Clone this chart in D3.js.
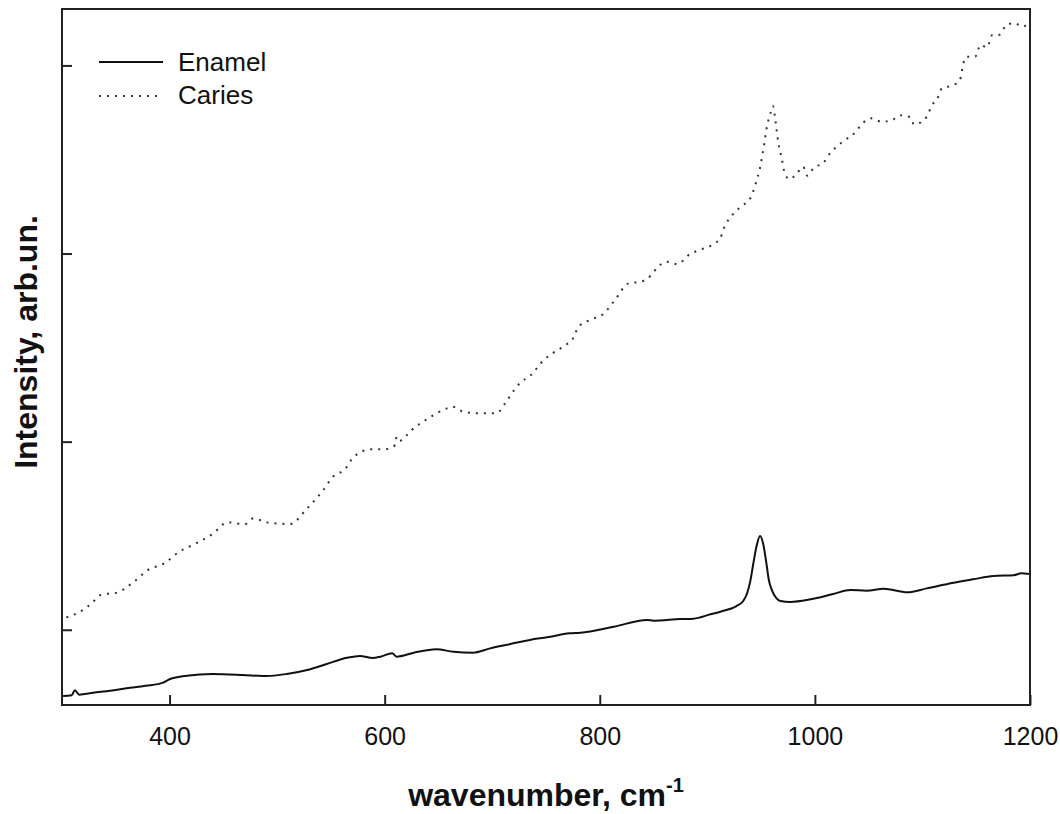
<!DOCTYPE html>
<html>
<head>
<meta charset="utf-8">
<script src="https://cdn.jsdelivr.net/npm/d3@7"></script>
<style>
  body { margin: 0; background: #fff; }
  text { font-family: "Liberation Sans", Arial, sans-serif; fill: #111; }
</style>
</head>
<body>
<div id="chart"></div>
<script>
// Raman spectra (wavenumber cm-1, intensity arb.un.)
var enamelWn = [301, 309, 312, 316, 329, 345, 360, 378, 394, 400, 416, 440, 468, 490, 509, 528, 546, 565, 577, 589, 596, 607, 611, 627, 648, 664, 682, 698, 717, 735, 751, 772, 782, 813, 844, 850, 875, 887, 903, 912, 927, 933, 937, 940, 943, 946, 949, 952, 955, 957, 960, 964, 968, 977, 996, 1017, 1033, 1048, 1064, 1086, 1104, 1129, 1147, 1166, 1185, 1192, 1199];
var enamelI = [648, 652, 678, 655, 665, 676, 689, 702, 719, 737, 756, 765, 760, 754, 765, 786, 818, 851, 861, 850, 857, 875, 857, 878, 896, 883, 878, 901, 924, 946, 960, 981, 984, 1016, 1052, 1048, 1057, 1059, 1082, 1096, 1126, 1150, 1194, 1260, 1360, 1450, 1498, 1455, 1350, 1270, 1211, 1170, 1153, 1148, 1162, 1190, 1211, 1208, 1218, 1199, 1220, 1250, 1268, 1286, 1290, 1300, 1296];

var cariesWn = [304, 315, 327, 336, 352, 367, 380, 395, 409, 425, 440, 454, 470, 478, 490, 512, 528, 543, 552, 563, 571, 587, 601, 610, 611, 614, 625, 642, 658, 663, 673, 686, 704, 712, 720, 726, 735, 748, 757, 766, 777, 779, 791, 804, 814, 827, 838, 847, 853, 862, 872, 884, 893, 906, 912, 915, 924, 932, 940, 945, 949, 953, 955, 959, 961, 963, 966, 969, 972, 976, 983, 989, 993, 999, 1008, 1014, 1021, 1027, 1036, 1045, 1052, 1062, 1072, 1079, 1089, 1092, 1098, 1104, 1109, 1114, 1118, 1129, 1135, 1138, 1141, 1149, 1154, 1160, 1165, 1171, 1179, 1186, 1193, 1198];
var cariesI = [1066, 1091, 1137, 1185, 1199, 1256, 1318, 1353, 1415, 1460, 1509, 1571, 1561, 1593, 1571, 1562, 1646, 1743, 1814, 1853, 1917, 1959, 1961, 1982, 2026, 2005, 2062, 2129, 2177, 2186, 2159, 2151, 2151, 2204, 2271, 2313, 2349, 2434, 2473, 2505, 2567, 2603, 2647, 2682, 2753, 2842, 2850, 2881, 2922, 2957, 2944, 2998, 3019, 3051, 3081, 3129, 3210, 3253, 3294, 3373, 3456, 3586, 3662, 3751, 3784, 3719, 3589, 3510, 3427, 3396, 3423, 3462, 3414, 3456, 3483, 3533, 3572, 3600, 3635, 3696, 3719, 3701, 3710, 3735, 3724, 3687, 3696, 3728, 3790, 3825, 3878, 3896, 3926, 4011, 4046, 4046, 4109, 4096, 4162, 4162, 4219, 4224, 4206, 4220];

var xTicks = [400, 600, 800, 1000, 1200];
var yTicks = [1000, 2000, 3000, 4000];
var seriesNames = ["Enamel", "Caries"];

var W = 1060, H = 814;
var margin = {left: 62, top: 9, right: 30, bottom: 109};
var pw = W - margin.left - margin.right;
var ph = H - margin.top - margin.bottom;

var svg = d3.select("#chart").append("svg")
    .attr("width", W)
    .attr("height", H);

var x = d3.scaleLinear().domain([300, 1200]).range([margin.left, margin.left + pw]);
var y = d3.scaleLinear().domain([600, 4300]).range([margin.top + ph, margin.top]);

// axes (ticks point inwards)
var gx = svg.append("g")
    .attr("transform", "translate(0," + (margin.top + ph) + ")")
    .call(d3.axisBottom(x).tickValues(xTicks).tickSize(-10).tickPadding(22).tickFormat(d3.format("d")));
gx.select(".domain").remove();
gx.selectAll("line").attr("stroke", "#222").attr("stroke-width", 2);
gx.selectAll("text").style("font-size", "25px").attr("fill", "#111");

var gy = svg.append("g")
    .attr("transform", "translate(" + margin.left + ",0)")
    .call(d3.axisLeft(y).tickValues(yTicks).tickSize(-10).tickFormat(""));
gy.select(".domain").remove();
gy.selectAll("line").attr("stroke", "#222").attr("stroke-width", 2);

// frame
svg.append("rect")
    .attr("x", margin.left)
    .attr("y", margin.top)
    .attr("width", pw)
    .attr("height", ph)
    .attr("fill", "none")
    .attr("stroke", "#222")
    .attr("stroke-width", 2);

var line = d3.line()
    .curve(d3.curveMonotoneX)
    .x(function(d) { return x(d[0]); })
    .y(function(d) { return y(d[1]); });

var enamel = d3.zip(enamelWn, enamelI);
var caries = d3.zip(cariesWn, cariesI);

svg.append("path")
    .datum(caries)
    .attr("d", line)
    .attr("fill", "none")
    .attr("stroke", "#333")
    .attr("stroke-width", 2)
    .attr("stroke-dasharray", "2,6");

svg.append("path")
    .datum(enamel)
    .attr("d", line)
    .attr("fill", "none")
    .attr("stroke", "#111")
    .attr("stroke-width", 2);

// legend
var legend = svg.append("g");
legend.append("line")
    .attr("x1", 99).attr("x2", 163).attr("y1", 62).attr("y2", 62)
    .attr("stroke", "#111").attr("stroke-width", 2);
legend.append("line")
    .attr("x1", 99).attr("x2", 159).attr("y1", 96).attr("y2", 96)
    .attr("stroke", "#333").attr("stroke-width", 2).attr("stroke-dasharray", "2,6");
legend.selectAll("text")
    .data(seriesNames)
    .enter().append("text")
    .attr("x", 178)
    .attr("y", function(d, i) { return 71 + i * 33; })
    .style("font-size", "26px")
    .text(function(d) { return d; });

// axis titles
var xt = svg.append("text")
    .attr("x", margin.left + pw / 2)
    .attr("y", 806)
    .attr("text-anchor", "middle")
    .style("font-size", "32px")
    .style("font-weight", "bold");
xt.append("tspan").text("wavenumber, cm");
xt.append("tspan").attr("dy", -14).style("font-size", "20px").text("-1");

svg.append("text")
    .attr("transform", "translate(37,342) rotate(-90)")
    .attr("text-anchor", "middle")
    .style("font-size", "32px")
    .style("font-weight", "bold")
    .text("Intensity, arb.un.");
</script>
</body>
</html>
